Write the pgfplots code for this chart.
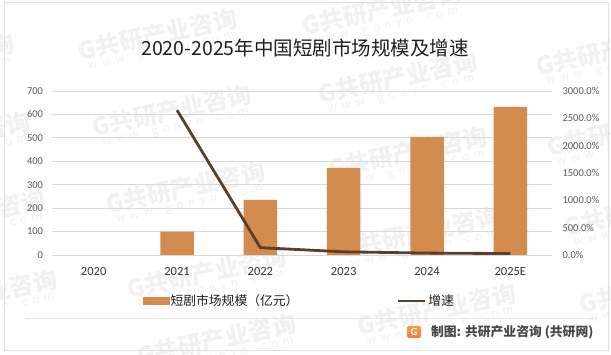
\documentclass[border=0pt]{standalone}
\usepackage{fontspec}
\setmainfont{Carlito}
\newfontfamily\cjk{Noto Sans CJK SC}
\usepackage{pgfplots}
\pgfplotsset{compat=1.18}
\definecolor{barc}{HTML}{D38C4E}
\definecolor{linec}{HTML}{5A3F2C}
\definecolor{gridc}{HTML}{D9D9D9}
\definecolor{tickc}{HTML}{595959}
\definecolor{logoc}{HTML}{F08A4B}
\definecolor{wmc}{HTML}{F1F1F1}
\begin{document}
\begin{tikzpicture}[x=1pt,y=1pt]
\useasboundingbox (0,0) rectangle (611,355);
% watermark
\foreach \wx/\wy in {159/32,173/108,187/185,208/270,218/337,383/7,399/75,409/150,422/230,438/307,617/47,628/128,645/208,660/285,-64/57,-48/135,-33/213,-21/293}{
  \node[rotate=12, text=wmc, align=center, inner sep=0pt] at (\wx,355-\wy-8)
   {{\cjk\bfseries\fontsize{24}{26}\selectfont G共研产业咨询}\\[-1pt]
    {\sffamily\fontsize{14}{15}\selectfont w\,\,w\,\,w\,\,.\,\,g\,\,o\,\,n\,\,y\,\,n\,\,.\,\,c\,\,o\,\,m}};
}
\draw[gray!25, line width=1pt] (4,4) rectangle (608,352);
\node[font=\cjk\fontsize{19.5}{22}\selectfont, text=black!88] at (305,307) {2020-2025年中国短剧市场规模及增速};
\begin{axis}[at={(52pt,100pt)}, anchor=south west, width=500pt, height=164pt, scale only axis,
  xmin=-0.5, xmax=5.5, ymin=0, ymax=700, ytick={0,100,...,700},
  xtick={0,...,5}, xticklabels={2020,2021,2022,2023,2024,2025E},
  axis y line*=left, axis x line*=bottom, ymajorgrids,
  grid style={gridc, line width=0.8pt},
  y axis line style={draw=none}, x axis line style={gridc, line width=0.8pt},
  major tick length=0pt,
  tick label style={tickc},
  yticklabel style={font=\fontsize{10.5}{12}\selectfont, xshift=-5.5pt},
  xticklabel style={font=\fontsize{12.5}{14}\selectfont, text=black!80, yshift=-9pt},
  /pgf/number format/assume math mode=true,
  clip=false]
\addplot[ybar, bar width=33.5pt, fill=barc, draw=none] coordinates {(1,100)(2,235)(3,372)(4,504)(5,632)};
\end{axis}
\begin{axis}[at={(52pt,100pt)}, anchor=south west, width=500pt, height=164pt, scale only axis,
  xmin=-0.5, xmax=5.5, ymin=0, ymax=3000, ytick={0,500,...,3000},
  axis y line*=right, axis x line=none, y axis line style={draw=none},
  major tick length=0pt, scaled y ticks=false,
  tick label style={tickc, font=\fontsize{10.5}{12}\selectfont},
  /pgf/number format/assume math mode=true,
  yticklabel={\pgfmathprintnumber[fixed, fixed zerofill, precision=1, 1000 sep={}]{\tick}\%},
  yticklabel style={xshift=7pt},
  legend style={at={(0.494,-0.2805)}, anchor=center, draw=none, fill=none,
    font=\cjk\fontsize{12.8}{14}\selectfont, text=black!88, legend columns=2,
    /tikz/every even column/.append style={column sep=97pt},
    nodes={inner sep=1.5pt}},
  clip=false]
\addlegendimage{legend image code/.code={\fill[barc] (0pt,-3.5pt) rectangle (26pt,3.5pt);}}
\addlegendentry{短剧市场规模（亿元）}
\addplot[linec, line width=2.8pt, legend image code/.code={\draw[linec, line width=2.8pt] (0pt,0pt) -- (27pt,0pt);}] coordinates {(1,2650)(2,134)(3,58)(4,35)(5,26)};
\addlegendentry{增速}
\end{axis}
\draw[gray!20, line width=0.8pt] (25,37) -- (597,37);
\node[anchor=east, font=\cjk\bfseries\fontsize{12.8}{14}\selectfont, text=black!72] at (597,23) {制图: 共研产业咨询 (共研网)};
\shade[top color=logoc!80!yellow, bottom color=logoc!90!red, rounded corners=1.5pt] (407,17) rectangle (421,29);
\node[font=\sffamily\bfseries\fontsize{10}{10}\selectfont, text=white] at (414,23) {G};
\end{tikzpicture}
\end{document}
